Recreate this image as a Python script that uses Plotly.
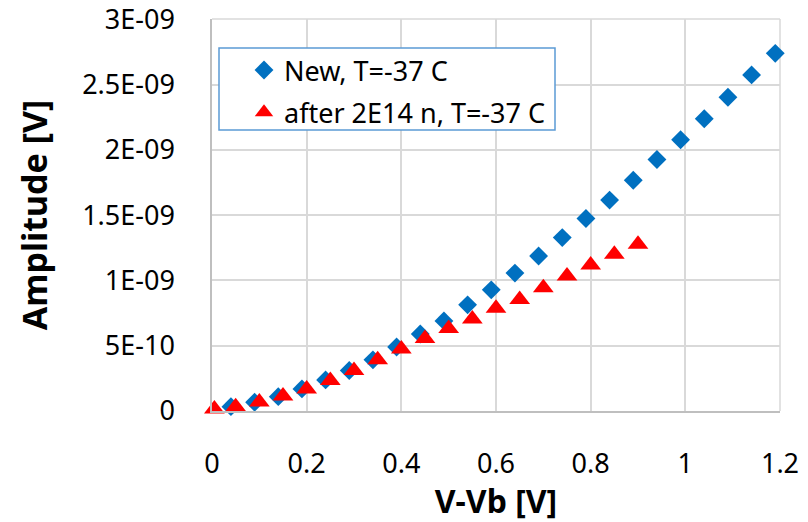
import plotly.graph_objects as go

# Data (amplitude in V)
new_x = [0.04, 0.09, 0.14, 0.19, 0.24, 0.29, 0.34, 0.39, 0.44, 0.49, 0.54, 0.59,
         0.64, 0.69, 0.74, 0.79, 0.84, 0.89, 0.94, 0.99, 1.04, 1.09, 1.14, 1.19]
new_y = [0.033e-9, 0.067e-9, 0.110e-9, 0.169e-9, 0.238e-9, 0.310e-9, 0.392e-9, 0.490e-9,
         0.590e-9, 0.690e-9, 0.813e-9, 0.928e-9, 1.056e-9, 1.187e-9, 1.328e-9, 1.474e-9,
         1.615e-9, 1.767e-9, 1.926e-9, 2.077e-9, 2.238e-9, 2.403e-9, 2.574e-9, 2.739e-9]

irr_x = [0.005, 0.05, 0.10, 0.15, 0.20, 0.25, 0.30, 0.35, 0.40, 0.45, 0.50, 0.55,
         0.60, 0.65, 0.70, 0.75, 0.80, 0.85, 0.90]
irr_y = [0.015e-9, 0.033e-9, 0.069e-9, 0.115e-9, 0.169e-9, 0.233e-9, 0.310e-9, 0.392e-9,
         0.474e-9, 0.556e-9, 0.631e-9, 0.705e-9, 0.787e-9, 0.854e-9, 0.944e-9, 1.033e-9,
         1.118e-9, 1.200e-9, 1.277e-9]

x_ticks = [0, 0.2, 0.4, 0.6, 0.8, 1.0, 1.2]
x_ticktext = ["0", "0.2", "0.4", "0.6", "0.8", "1", "1.2"]
y_ticks = [0, 0.5e-9, 1.0e-9, 1.5e-9, 2.0e-9, 2.5e-9, 3.0e-9]
y_ticktext = ["0", "5E-10", "1E-09", "1.5E-09", "2E-09", "2.5E-09", "3E-09"]

FONT = "Noto Sans"
GRID = "#D9D9D9"
L, R, T, B = 212, 28, 19, 111
W, H = 808, 522
pw, ph = W - L - R, H - T - B

def px_x(p):
    return (p - L) / pw

def px_y(p):
    return (H - B - p) / ph

fig = go.Figure()
fig.add_trace(go.Scatter(
    x=new_x, y=new_y, mode="markers", name="New, T=-37 C",
    legendgroup="a", cliponaxis=False,
    marker=dict(symbol="diamond", size=14.5, color="#0070C0"),
))
fig.add_trace(go.Scatter(
    x=irr_x, y=irr_y, mode="markers", name="after 2E14 n, T=-37 C",
    legendgroup="b", cliponaxis=False,
    marker=dict(symbol="triangle-up", size=18, color="#FF0000"),
))

fig.update_layout(
    width=W, height=H,
    margin=dict(l=L, r=R, t=T, b=B, autoexpand=False),
    paper_bgcolor="white", plot_bgcolor="white",
    font=dict(family=FONT, size=27, color="#000000"),
    showlegend=True,
    legend=dict(
        x=px_x(244), y=px_y(46), xanchor="left", yanchor="top",
        bgcolor="rgba(0,0,0,0)", borderwidth=0,
        font=dict(family=FONT, size=27, color="#000000"),
        tracegroupgap=4, itemwidth=30,
    ),
    xaxis=dict(
        range=[0, 1.2], tickvals=x_ticks, ticktext=x_ticktext,
        showgrid=True, gridcolor=GRID, gridwidth=1.5,
        showline=True, linecolor="#BFBFBF", linewidth=1.5,
        zeroline=False, ticks="", ticklabelstandoff=28,
        ticklabeloverflow="allow",
        tickfont=dict(family=FONT, size=27, color="#000000"),
        title=dict(text="<b>V-Vb [V]</b>", font=dict(family=FONT, size=32, color="#000000"), standoff=2),
    ),
    yaxis=dict(
        range=[0, 3.002e-9], tickvals=y_ticks, ticktext=y_ticktext,
        showgrid=True, gridcolor=GRID, gridwidth=1.5,
        showline=True, linecolor="#BFBFBF", linewidth=1.5,
        zeroline=False, ticks="", ticklabelstandoff=30,
        ticklabeloverflow="allow",
        tickfont=dict(family=FONT, size=27, color="#000000"),
        title=dict(text="<b>Amplitude [V]</b>", font=dict(family=FONT, size=34, color="#000000"), standoff=24),
    ),
    shapes=[
        dict(type="line", xref="paper", yref="paper", x0=0, x1=1, y0=1, y1=1,
             line=dict(color=GRID, width=1.5), layer="between"),
        dict(type="line", xref="paper", yref="paper", x0=1, x1=1, y0=0, y1=1,
             line=dict(color=GRID, width=1.5), layer="between"),
        dict(type="rect", xref="paper", yref="paper",
             x0=px_x(219), x1=px_x(555), y0=px_y(130), y1=px_y(48),
             line=dict(color="#5B9BD5", width=1.5), fillcolor="white", layer="above"),
    ],
)

fig.write_html("out.html")
